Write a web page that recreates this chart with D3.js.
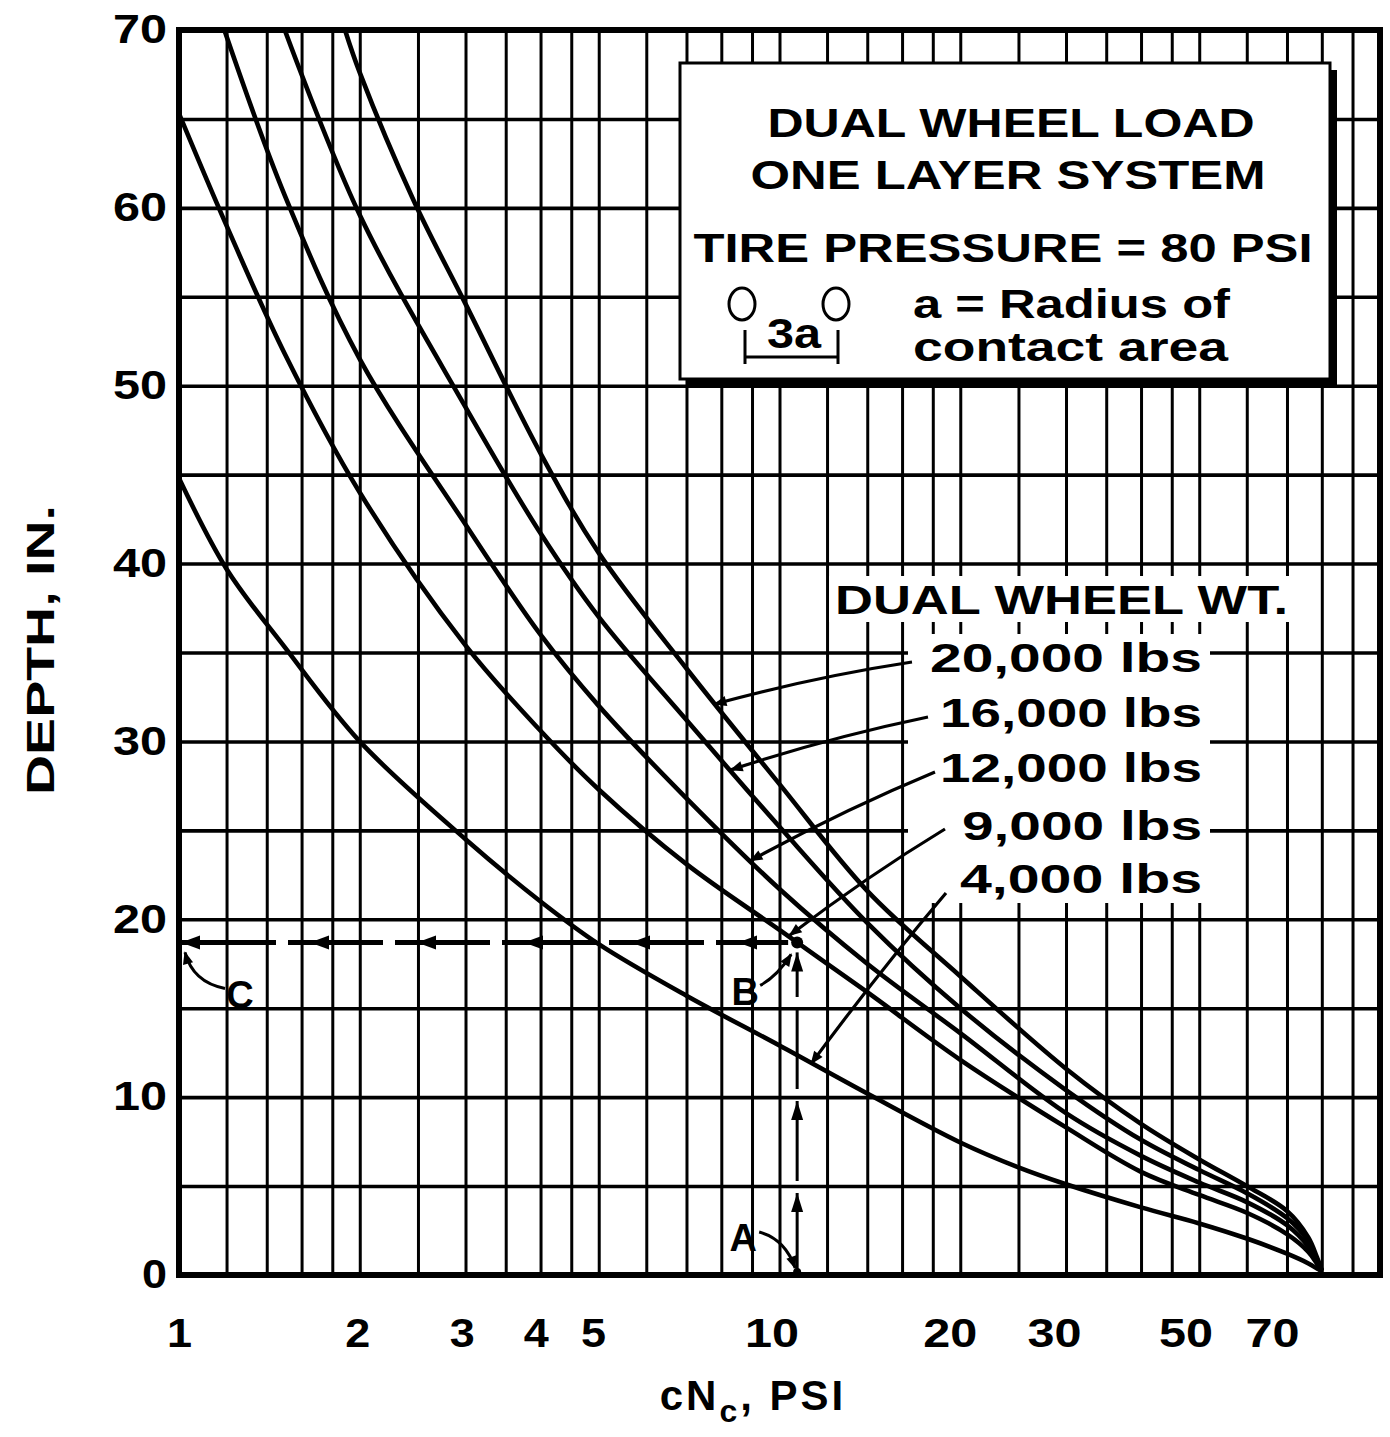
<!DOCTYPE html>
<html>
<head>
<meta charset="utf-8">
<script src="https://cdn.jsdelivr.net/npm/d3@7"></script>
<style>
  html, body { margin: 0; padding: 0; background: #fff; }
  svg { display: block; }
  text { font-family: "Liberation Sans", Arial, Helvetica, sans-serif; font-weight: bold; fill: #000; }
</style>
</head>
<body>
<svg id="chart" width="1390" height="1437"></svg>
<script>
// ---- axis values ----
const xGridValues = [1, 1.2, 1.4, 1.6, 1.8, 2, 2.5, 3, 3.5, 4, 4.5, 5, 6, 7, 8, 9,
                     10, 12, 14, 16, 18, 20, 25, 30, 35, 40, 45, 50, 60, 70, 80, 90, 100];
const xTickValues = [1, 2, 3, 4, 5, 10, 20, 30, 50, 70];
const yGridValues = [5, 10, 15, 20, 25, 30, 35, 40, 45, 50, 55, 60, 65];
const yTickValues = [0, 10, 20, 30, 40, 50, 60, 70];

// ---- curves: [cNc (psi), depth (in.)] ----
const load20000 = [[1.89,70],[2,67.6],[2.46,60.4],[3,54.6],[4,46.2],[5,40.6],[7,34.1],[10,27.6],
  [14,21.6],[20,16.8],[30,11.6],[40,8.5],[50,6.5],[60,5.0],[70,3.6],[76,2.1],[78.5,1.0],[80,0.25]];
const load16000 = [[1.5,70],[2,59.6],[3,48.8],[4,41.7],[5,37.0],[7,31.2],[10,25.2],[14,19.8],
  [20,15.0],[30,10.4],[40,7.6],[50,5.9],[60,4.6],[70,3.2],[76,1.9],[78.5,0.9],[80,0.25]];
const load12000 = [[1.19,70],[1.5,60.7],[2,51.5],[3,42.2],[4,36.0],[5,32.0],[7,26.8],[10,21.7],
  [14,17.5],[20,13.6],[30,9.1],[40,6.7],[50,5.2],[60,4.1],[70,2.8],[76,1.6],[78.5,0.8],[80,0.25]];
const load9000 = [[1,65.3],[1.2,59.0],[1.5,51.8],[2,44.0],[3,35.4],[4,30.6],[5,27.3],[7,23.1],
  [10,19.4],[14,15.9],[20,12.1],[30,8.3],[40,5.8],[50,4.5],[60,3.5],[70,2.3],[76,1.3],[78.5,0.65],[80,0.2]];
const load4000 = [[1,44.8],[1.2,39.7],[1.5,35.3],[2,30],[3,24.5],[4,21],[5,18.6],[7,15.7],
  [10,12.9],[14,10.2],[20,7.45],[25,6.05],[30,5.1],[40,3.8],[50,2.9],[60,2.05],[70,1.2],[76,0.65],[80,0.2]];

const seriesData   = [load20000, load16000, load12000, load9000, load4000];
const seriesLabels = ["20,000 lbs", "16,000 lbs", "12,000 lbs", "9,000 lbs", "4,000 lbs"];
// where each label's leader meets its curve
const leaderTargets = [[7.8, 32.1], [8.3, 28.4], [8.95, 23.3], [10.4, 19.1], [11.3, 11.9]];

// worked example: A (cNc) -> B (on 9,000 lb curve) -> C (depth)
const pointA = [10.7, 0];
const pointB = [10.7, 18.7];
const pointC = [1, 18.7];

const boxLines = ["DUAL WHEEL LOAD", "ONE LAYER SYSTEM", "TIRE PRESSURE = 80 PSI"];
const boxNote  = ["a = Radius of", "contact area"];

// ---- layout ----
const plot = { left: 179, right: 1380, top: 30, bottom: 1275 };
const x = d3.scaleLog().domain([1, 100]).range([plot.left, plot.right]);
const y = d3.scaleLinear().domain([0, 70]).range([plot.bottom, plot.top]);
const svg = d3.select("#chart");

const defs = svg.append("defs");
defs.append("marker")
  .attr("id", "head").attr("viewBox", "0 0 10 10").attr("refX", 9).attr("refY", 5)
  .attr("markerUnits", "userSpaceOnUse").attr("markerWidth", 17).attr("markerHeight", 13)
  .attr("orient", "auto")
  .append("path").attr("d", "M0,1 L10,5 L0,9 Z").attr("fill", "#000");
defs.append("clipPath").attr("id", "plotClip")
  .append("rect").attr("x", plot.left).attr("y", plot.top)
  .attr("width", plot.right - plot.left).attr("height", plot.bottom - plot.top);

// ---- grid ----
const grid = svg.append("g").attr("clip-path", "url(#plotClip)");
grid.append("g").attr("transform", `translate(0,${plot.bottom})`)
  .call(d3.axisBottom(x).tickValues(xGridValues).tickSize(-(plot.bottom - plot.top)).tickFormat(""))
  .call(g => g.select(".domain").remove())
  .selectAll("line").attr("stroke", "#000").attr("stroke-width", 3);
grid.append("g").attr("transform", `translate(${plot.left},0)`)
  .call(d3.axisLeft(y).tickValues(yGridValues).tickSize(-(plot.right - plot.left)).tickFormat(""))
  .call(g => g.select(".domain").remove())
  .selectAll("line").attr("stroke", "#000").attr("stroke-width", 3.6);

// ---- frame ----
svg.append("rect")
  .attr("x", plot.left).attr("y", plot.top)
  .attr("width", plot.right - plot.left).attr("height", plot.bottom - plot.top)
  .attr("fill", "none").attr("stroke", "#000").attr("stroke-width", 6);

// ---- title box ----
const box = { x0: 680, y0: 63, x1: 1330, y1: 379 };
svg.append("rect").attr("x", box.x0 + 7).attr("y", box.y0 + 7)
  .attr("width", box.x1 - box.x0).attr("height", box.y1 - box.y0).attr("fill", "#000");
svg.append("rect").attr("x", box.x0).attr("y", box.y0)
  .attr("width", box.x1 - box.x0).attr("height", box.y1 - box.y0)
  .attr("fill", "#fff").attr("stroke", "#000").attr("stroke-width", 3);

const boxText = svg.append("g");
const boxSpecs = [
  { t: boxLines[0], cx: 1011, by: 137, len: 487 },
  { t: boxLines[1], cx: 1008, by: 189, len: 515 },
  { t: boxLines[2], cx: 1003, by: 262, len: 619 }
];
boxSpecs.forEach(s => {
  boxText.append("text").attr("x", s.cx).attr("y", s.by).attr("text-anchor", "middle")
    .attr("font-size", 40).attr("textLength", s.len).attr("lengthAdjust", "spacingAndGlyphs").text(s.t);
});
boxText.append("text").attr("x", 913).attr("y", 318).attr("font-size", 40)
  .attr("textLength", 317).attr("lengthAdjust", "spacingAndGlyphs").text(boxNote[0]);
boxText.append("text").attr("x", 913).attr("y", 361).attr("font-size", 40)
  .attr("textLength", 315).attr("lengthAdjust", "spacingAndGlyphs").text(boxNote[1]);
// dual wheel sketch
[742, 836].forEach(cx => {
  boxText.append("ellipse").attr("cx", cx).attr("cy", 304).attr("rx", 13).attr("ry", 16)
    .attr("fill", "none").attr("stroke", "#000").attr("stroke-width", 3);
});
boxText.append("text").attr("x", 794).attr("y", 348).attr("text-anchor", "middle")
  .attr("font-size", 42).attr("textLength", 54).attr("lengthAdjust", "spacingAndGlyphs").text("3a");
boxText.append("path").attr("d", "M745,330 V364 M838,330 V364 M745,357 H838")
  .attr("stroke", "#000").attr("stroke-width", 3).attr("fill", "none");

// ---- curves ----
const line = d3.line().x(d => x(d[0])).y(d => y(d[1])).curve(d3.curveCatmullRom.alpha(0.5));
svg.append("g").attr("clip-path", "url(#plotClip)")
  .selectAll("path").data(seriesData).join("path")
  .attr("d", line).attr("fill", "none").attr("stroke", "#000")
  .attr("stroke-width", 4.6).attr("stroke-linejoin", "round");

// ---- legend labels ----
const legend = svg.append("g");
const wtTitle = legend.append("text").attr("x", 835).attr("y", 614).attr("font-size", 40)
  .attr("textLength", 453).attr("lengthAdjust", "spacingAndGlyphs").text("DUAL WHEEL WT.");
const labelBaselines = [672, 727, 782, 840, 893];
const labelWidths = [272, 262, 262, 240, 242];
const labels = legend.selectAll("text.lbl").data(seriesLabels).join("text")
  .attr("class", "lbl")
  .attr("x", 1202).attr("y", (d, i) => labelBaselines[i]).attr("text-anchor", "end")
  .attr("font-size", 40).attr("textLength", (d, i) => labelWidths[i])
  .attr("lengthAdjust", "spacingAndGlyphs").text(d => d);

// white knock-outs behind the labels
const tb = wtTitle.node().getBBox();
legend.insert("rect", ":first-child")
  .attr("x", tb.x - 6).attr("y", tb.y - 2).attr("width", tb.width + 12).attr("height", tb.height + 2)
  .attr("fill", "#fff");
let lx0 = Infinity, ly0 = Infinity, lx1 = -Infinity, ly1 = -Infinity;
labels.each(function () {
  const b = this.getBBox();
  lx0 = Math.min(lx0, b.x); ly0 = Math.min(ly0, b.y);
  lx1 = Math.max(lx1, b.x + b.width); ly1 = Math.max(ly1, b.y + b.height);
});
legend.insert("rect", ":first-child")
  .attr("x", lx0 - 22).attr("y", ly0 - 2).attr("width", lx1 - lx0 + 30).attr("height", ly1 - ly0 + 4)
  .attr("fill", "#fff");

// leaders from each label to its curve
const leaderStarts = [[912, 662], [928, 717], [935, 772], [945, 829], [946, 893]];
legend.selectAll("path.leader").data(leaderTargets).join("path")
  .attr("class", "leader")
  .attr("d", (d, i) => {
    const [sx, sy] = leaderStarts[i];
    const tx = x(d[0]), ty = y(d[1]);
    const mx = (sx + tx) / 2, my = (sy + ty) / 2 - 6;
    return `M${sx},${sy} Q${mx},${my} ${tx},${ty}`;
  })
  .attr("fill", "none").attr("stroke", "#000").attr("stroke-width", 3.2)
  .attr("marker-end", "url(#head)");

// ---- worked example ----
const ex = svg.append("g");
const ax = x(pointA[0]), bx = x(pointB[0]), by = y(pointB[1]), cx = x(pointC[0]);
function arrowTip(g, tx, ty, dir) {
  const d = dir === "left"
    ? `M${tx},${ty} L${tx + 19},${ty - 7} L${tx + 19},${ty + 7} Z`
    : `M${tx},${ty} L${tx - 6},${ty + 19} L${tx + 6},${ty + 19} Z`;
  g.append("path").attr("d", d).attr("fill", "#000");
}
// horizontal dashes B -> C
{
  const start = cx + 2, end = bx - 9, period = 107, dash = 95;
  let i = 0;
  for (let s = start; s < end; s += period, i++) {
    const e = Math.min(s + dash, end);
    ex.append("line").attr("x1", s).attr("x2", e).attr("y1", by).attr("y2", by)
      .attr("stroke", "#000").attr("stroke-width", 5);
    arrowTip(ex, i === 0 ? s : s + 22, by, "left");
  }
}
// vertical dashes A -> B
{
  const start = y(pointA[1]) - 2, end = by + 10, period = 92, dash = 80;
  let i = 0;
  for (let s = start; s > end; s -= period, i++) {
    const e = Math.max(s - dash, end);
    ex.append("line").attr("x1", ax).attr("x2", ax).attr("y1", s).attr("y2", e)
      .attr("stroke", "#000").attr("stroke-width", 3);
    if (i !== 2) arrowTip(ex, ax, e, "up");
  }
}
ex.append("circle").attr("cx", bx).attr("cy", by).attr("r", 6).attr("fill", "#000");
ex.append("circle").attr("cx", ax).attr("cy", y(pointA[1]) - 3).attr("r", 4).attr("fill", "#000");

const ay = y(pointA[1]), cy = y(pointC[1]);
ex.append("text").attr("x", ax - 54).attr("y", ay - 24).attr("text-anchor", "middle").attr("font-size", 38).text("A");
ex.append("path").attr("d", `M${ax - 38},${ay - 43} Q${ax - 12},${ay - 36} ${ax - 2},${ay - 7}`)
  .attr("fill", "none").attr("stroke", "#000").attr("stroke-width", 3).attr("marker-end", "url(#head)");
ex.append("text").attr("x", bx - 52).attr("y", by + 63).attr("text-anchor", "middle").attr("font-size", 38).text("B");
ex.append("path").attr("d", `M${bx - 37},${by + 43} Q${bx - 20},${by + 34} ${bx - 6},${by + 12}`)
  .attr("fill", "none").attr("stroke", "#000").attr("stroke-width", 3).attr("marker-end", "url(#head)");
ex.append("text").attr("x", cx + 61).attr("y", cy + 66).attr("text-anchor", "middle").attr("font-size", 38).text("C");
ex.append("path").attr("d", `M${cx + 46},${cy + 46} Q${cx + 14},${cy + 40} ${cx + 6},${cy + 10}`)
  .attr("fill", "none").attr("stroke", "#000").attr("stroke-width", 3).attr("marker-end", "url(#head)");

// ---- tick labels ----
svg.append("g").attr("transform", `translate(0,${plot.bottom})`)
  .call(d3.axisBottom(x).tickValues(xTickValues).tickFormat(d3.format("d")).tickSize(0).tickPadding(44))
  .call(g => g.select(".domain").remove())
  .selectAll("text").attr("font-size", 40).attr("font-family", null)
  .attr("dx", d => -(x(d) - plot.left) * 0.0135)
  .attr("textLength", d => d >= 10 ? 54 : 25).attr("lengthAdjust", "spacingAndGlyphs");
svg.append("g").attr("transform", `translate(${plot.left},0)`)
  .call(d3.axisLeft(y).tickValues(yTickValues).tickFormat(d3.format("d")).tickSize(0).tickPadding(12))
  .call(g => g.select(".domain").remove())
  .selectAll("text").attr("font-size", 40).attr("font-family", null)
  .attr("textLength", d => d >= 10 ? 54 : 25).attr("lengthAdjust", "spacingAndGlyphs");

// ---- axis titles ----
const xt = svg.append("text").attr("x", 753).attr("y", 1410).attr("text-anchor", "middle")
  .attr("font-size", 42).attr("letter-spacing", 3);
xt.append("tspan").text("cN");
xt.append("tspan").attr("font-size", 32).attr("dy", 12).text("c");
xt.append("tspan").attr("dy", -12).text(", PSI");
svg.append("text").attr("transform", "translate(54,650) rotate(-90)").attr("text-anchor", "middle")
  .attr("font-size", 38).attr("textLength", 290).attr("lengthAdjust", "spacingAndGlyphs").text("DEPTH, IN.");
</script>
</body>
</html>
